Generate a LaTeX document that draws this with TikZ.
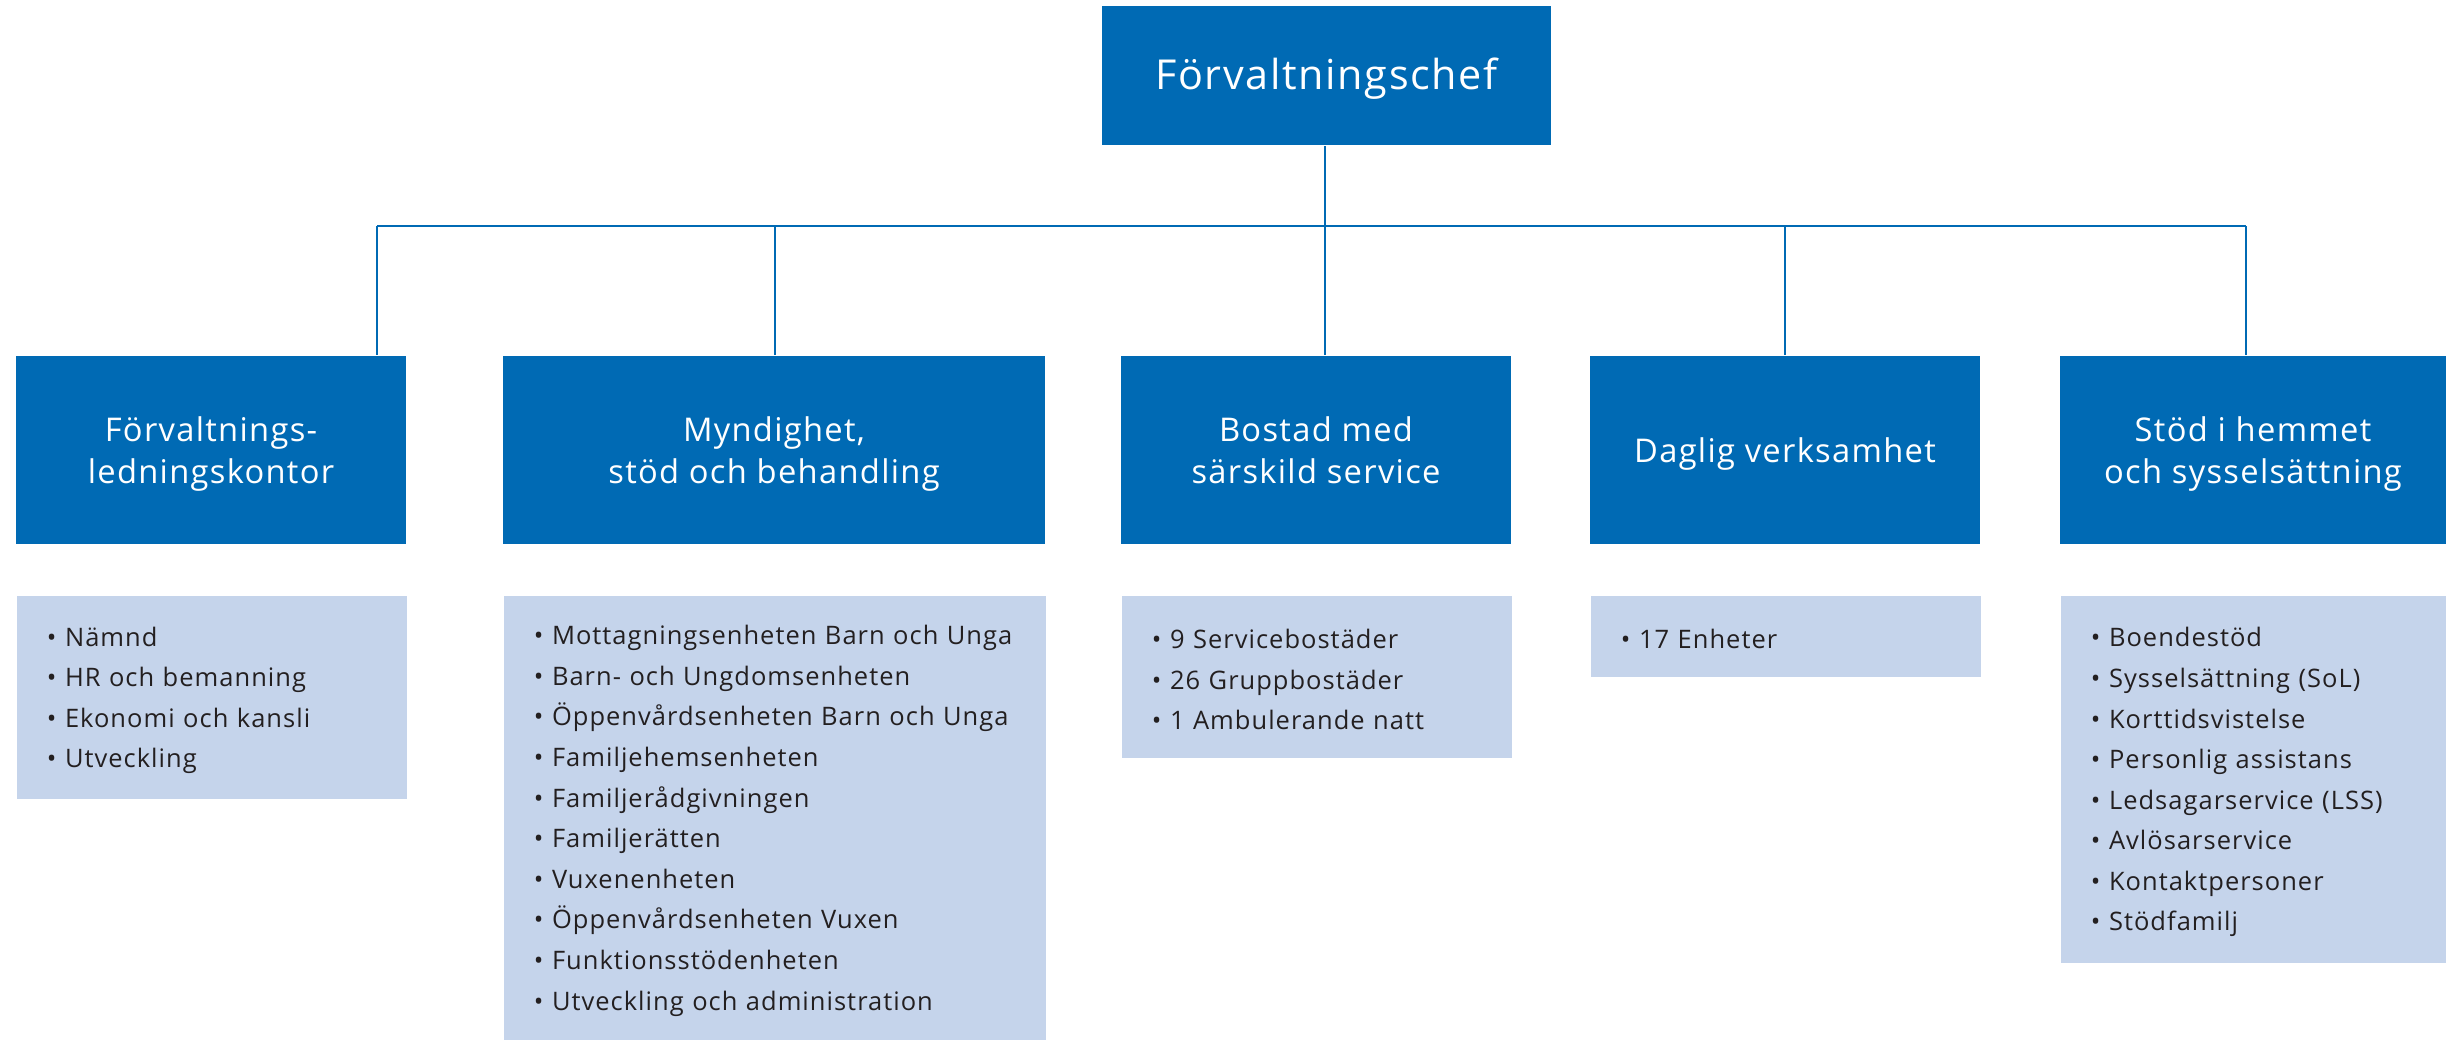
\documentclass[tikz,border=0pt]{standalone}
\usepackage{fontspec}
\setmainfont{Open Sans}[LetterSpace=4]
\definecolor{blue1}{RGB}{0, 106, 180}
\definecolor{blue2}{RGB}{197, 212, 235}
\definecolor{ink}{RGB}{35, 31, 32}

\begin{document}
\begin{tikzpicture}[x=0.02cm, y=-0.02cm, line width=1.1pt,
  chief/.style={rectangle, fill=blue1, text=white, inner sep=0pt, minimum width=8.98cm, minimum height=2.78cm, text depth=0.08cm, font=\fontsize{23.5}{28}\selectfont},
  head/.style={rectangle, fill=blue1, text=white, inner sep=0pt, minimum width=7.8cm, minimum height=3.76cm, align=center, text depth=-0.1cm, font=\fontsize{18.6}{23.9}\selectfont},
  list/.style={rectangle, fill=blue2, text=ink, anchor=north west, inner xsep=0.6cm, inner ysep=0pt, align=left, text height=0.5cm, font=\fontsize{14.5}{23.1}\selectfont},
  link/.style={draw=blue1}]
  \useasboundingbox (0,0) rectangle (2446,1039);
  \node[chief] (n0) at (1326.5,75.5) {Förvaltningschef};
  \node[head] (n1) at (211,450) {Förvaltnings-\\ledningskontor};
  \node[head, minimum width=10.84cm] (n2) at (774,450) {Myndighet,\\stöd och behandling};
  \node[head] (n3) at (1316,450) {Bostad med\\särskild service};
  \node[head] (n4) at (1785,450) {Daglig verksamhet};
  \node[head, minimum width=7.72cm] (n5) at (2253,450) {Stöd i hemmet\\och sysselsättning};
  % lists under each unit
  \node[list, text width=6.6cm, minimum height=4.06cm] (l1) at (16,595)
    {• Nämnd\\• HR och bemanning\\• Ekonomi och kansli\\• Utveckling};
  \node[list, text width=9.64cm, minimum height=8.88cm] (l2) at (503,595)
    {• Mottagningsenheten Barn och Unga\\• Barn- och Ungdomsenheten\\• Öppenvårdsenheten Barn och Unga\\• Familjehemsenheten\\• Familjerådgivningen\\• Familjerätten\\• Vuxenenheten\\• Öppenvårdsenheten Vuxen\\• Funktionsstödenheten\\• Utveckling och administration};
  \node[list, text width=6.6cm, minimum height=3.24cm] (l3) at (1121,595)
    {• 9 Servicebostäder\\• 26 Gruppbostäder\\• 1 Ambulerande natt};
  \node[list, text width=6.6cm, minimum height=1.62cm] (l4) at (1590,595)
    {• 17 Enheter};
  \node[list, text width=6.52cm, minimum height=7.34cm] (l5) at (2060,595)
    {• Boendestöd\\• Sysselsättning (SoL)\\• Korttidsvistelse\\• Personlig assistans\\• Ledsagarservice (LSS)\\• Avlösarservice\\• Kontaktpersoner\\• Stödfamilj};
  % connectors
  \coordinate (t1) at (377,226);
  \coordinate (t2) at (775,226);
  \coordinate (t3) at (1325,226);
  \coordinate (t4) at (1785,226);
  \coordinate (t5) at (2246,226);
  \draw[link] (t3 |- n0.south) -- (t3);
  \draw[link] (t1) -- (t5);
  \foreach \from/\to in {t1/n1, t2/n2, t3/n3, t4/n4, t5/n5}
   \draw[link] (\from) -- (\from |- \to.north);
\end{tikzpicture}
\end{document}
